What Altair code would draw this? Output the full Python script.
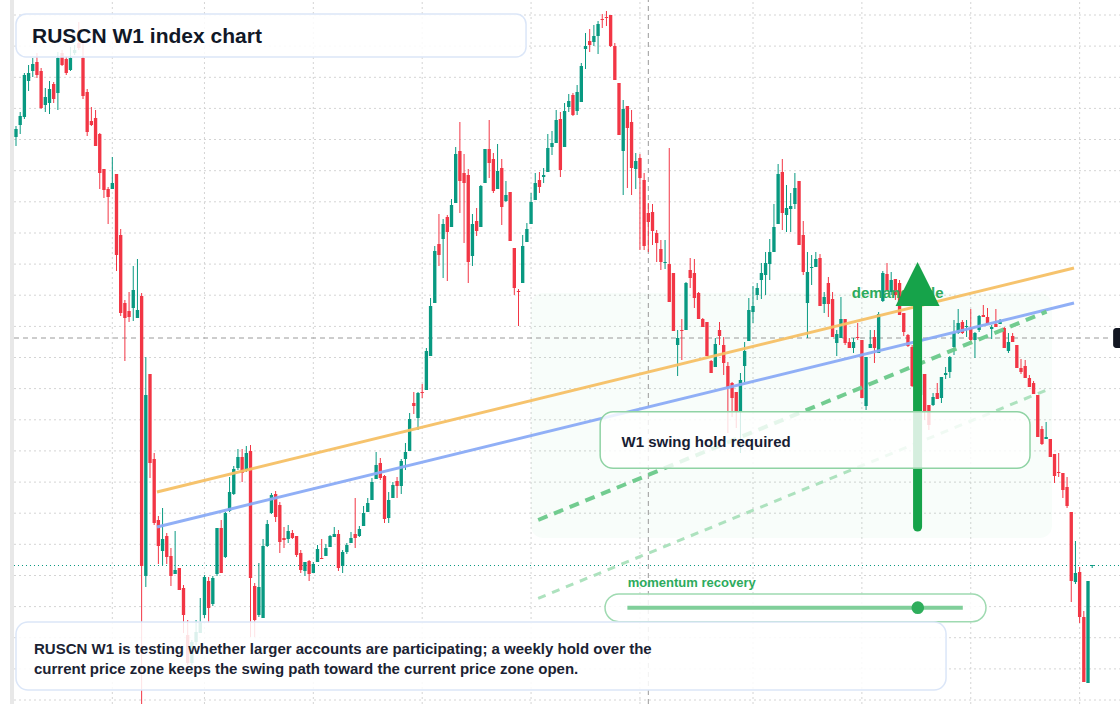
import altair as alt
import pandas as pd
import numpy as np

# ---- weekly OHLC (index points) ----
opens = [
    863, 875, 883, 919, 929, 938, 929, 895, 897, 916,
    907, 947, 941, 930, 947, 957, 942, 908, 879, 882,
    866, 831, 811, 811, 826, 765, 697, 689, 692, 682,
    704, 424, 626, 541, 480, 449, 464, 444, 426, 432,
    412, 365, 337, 358, 367, 385, 419, 396, 426, 472,
    443, 489, 506, 532, 543, 530, 549, 414, 385, 382,
    454, 487, 506, 495, 462, 461, 467, 464, 447, 429,
    439, 427, 438, 442, 444, 453, 463, 466, 434, 448,
    457, 466, 464, 474, 488, 500, 521, 537, 524, 482,
    502, 519, 514, 541, 549, 597, 582, 608, 610, 644,
    697, 756, 761, 783, 773, 797, 849, 827, 825, 744,
    779, 773, 817, 851, 841, 811, 832, 799, 808, 752,
    709, 717, 758, 776, 800, 820, 823, 828, 853, 857,
    881, 853, 893, 905, 889, 898, 951, 959, 958, 964,
    981, 983, 985, 954, 917, 849, 894, 878, 831, 842,
    820, 787, 788, 767, 751, 737, 736, 727, 655, 670,
    670, 730, 727, 707, 681, 678, 639, 633, 670, 655,
    634, 617, 608, 588, 634, 659, 688, 705, 720, 725,
    736, 748, 776, 828, 785, 791, 796, 819, 765, 697,
    732, 733, 742, 696, 717, 701, 657, 662, 681, 658,
    652, 663, 660, 594, 652, 663, 647, 699, 726, 708,
    721, 717, 687, 665, 653, 620, 605, 626, 595, 595,
    607, 602, 625, 628, 653, 667, 678, 673, 672, 660,
    670, 685, 683, 671, 676, 676, 672, 649, 664, 655,
    632, 634, 622, 617, 605, 571, 561, 561, 546, 528,
    527, 513, 488, 418, 428, 383, 317, 434,
]
highs = [
    874, 888, 927, 935, 942, 947, 932, 912, 919, 918,
    948, 950, 943, 953, 955, 978, 957, 911, 893, 890,
    867, 831, 813, 843, 826, 771, 700, 708, 734, 741,
    707, 643, 626, 547, 484, 492, 467, 452, 469, 432,
    415, 380, 360, 380, 402, 425, 423, 424, 472, 480,
    488, 523, 534, 551, 551, 554, 555, 417, 437, 461,
    480, 507, 509, 498, 473, 475, 470, 464, 450, 438,
    440, 438, 455, 461, 456, 465, 473, 470, 450, 457,
    468, 502, 474, 494, 502, 522, 548, 542, 525, 508,
    518, 523, 541, 557, 587, 608, 608, 616, 652, 702,
    754, 786, 781, 785, 801, 853, 878, 846, 831, 786,
    792, 815, 851, 880, 847, 856, 841, 819, 808, 752,
    711, 765, 777, 807, 827, 828, 832, 866, 869, 890,
    888, 897, 906, 907, 915, 937, 967, 971, 975, 979,
    986, 989, 985, 957, 917, 900, 894, 890, 847, 846,
    827, 797, 796, 770, 760, 760, 852, 727, 670, 681,
    718, 742, 741, 708, 682, 678, 640, 662, 678, 663,
    638, 618, 608, 627, 658, 702, 714, 717, 737, 748,
    761, 796, 836, 841, 815, 807, 827, 819, 779, 748,
    745, 748, 746, 708, 723, 708, 670, 703, 681, 662,
    662, 677, 660, 643, 670, 670, 688, 729, 737, 728,
    721, 720, 687, 666, 655, 625, 628, 626, 595, 607,
    617, 623, 633, 644, 680, 691, 680, 680, 691, 668,
    685, 695, 692, 675, 691, 681, 673, 667, 667, 655,
    641, 640, 625, 619, 605, 574, 578, 561, 546, 547,
    527, 523, 488, 459, 433, 389, 419, 434,
]
lows = [
    854, 866, 881, 909, 923, 922, 891, 888, 886, 897,
    890, 934, 925, 929, 945, 950, 901, 864, 874, 854,
    811, 802, 776, 811, 729, 684, 639, 678, 679, 682,
    290, 413, 522, 475, 436, 435, 436, 414, 426, 410,
    367, 335, 335, 355, 367, 382, 377, 394, 424, 427,
    442, 488, 505, 530, 518, 528, 363, 363, 383, 382,
    453, 486, 478, 447, 452, 457, 461, 443, 427, 424,
    419, 427, 438, 441, 444, 453, 463, 429, 427, 446,
    457, 452, 463, 474, 488, 500, 521, 520, 477, 477,
    502, 502, 506, 530, 549, 586, 570, 602, 610, 644,
    697, 734, 722, 719, 773, 797, 787, 757, 717, 734,
    764, 773, 817, 822, 807, 811, 775, 798, 759, 705,
    674, 717, 758, 776, 800, 807, 817, 828, 845, 857,
    823, 853, 888, 884, 885, 898, 931, 948, 954, 946,
    972, 974, 953, 920, 865, 805, 812, 805, 811, 750,
    750, 748, 755, 738, 730, 731, 698, 669, 624, 640,
    670, 712, 692, 681, 673, 644, 627, 633, 655, 625,
    567, 583, 572, 547, 618, 659, 677, 700, 701, 705,
    720, 748, 776, 770, 768, 768, 791, 755, 725, 662,
    715, 733, 694, 687, 683, 663, 644, 662, 655, 652,
    647, 660, 602, 590, 652, 637, 647, 698, 709, 705,
    700, 685, 664, 653, 613, 600, 600, 580, 570, 594,
    601, 597, 621, 622, 645, 666, 666, 663, 657, 642,
    668, 683, 676, 661, 673, 676, 652, 647, 658, 632,
    626, 622, 613, 606, 563, 555, 561, 543, 517, 523,
    502, 492, 398, 416, 377, 318, 317, 432,
]
closes = [
    871, 884, 925, 927, 936, 925, 892, 903, 911, 901,
    942, 935, 927, 942, 950, 952, 904, 868, 875, 854,
    827, 810, 803, 817, 745, 687, 682, 683, 710, 690,
    434, 605, 537, 477, 454, 461, 443, 424, 430, 410,
    385, 337, 358, 368, 378, 423, 392, 422, 472, 427,
    487, 508, 531, 543, 527, 547, 422, 380, 413, 454,
    476, 505, 483, 458, 460, 469, 462, 445, 430, 438,
    426, 436, 451, 441, 452, 464, 466, 432, 448, 455,
    462, 462, 471, 487, 497, 518, 535, 522, 481, 500,
    515, 514, 539, 548, 581, 594, 607, 607, 649, 694,
    749, 745, 776, 768, 795, 846, 819, 817, 738, 776,
    769, 814, 851, 837, 809, 829, 793, 805, 759, 712,
    708, 754, 771, 798, 817, 813, 825, 852, 857, 880,
    830, 889, 899, 885, 908, 934, 954, 955, 964, 976,
    980, 982, 954, 920, 865, 891, 872, 832, 839, 822,
    754, 778, 769, 757, 738, 738, 698, 669, 662, 669,
    717, 722, 702, 681, 673, 644, 627, 656, 664, 637,
    613, 602, 588, 620, 649, 690, 694, 712, 727, 737,
    748, 773, 826, 787, 792, 794, 812, 755, 728, 728,
    733, 741, 694, 703, 696, 663, 666, 681, 657, 652,
    658, 662, 602, 643, 656, 652, 686, 727, 709, 720,
    705, 685, 668, 654, 614, 605, 626, 588, 575, 603,
    601, 623, 627, 643, 667, 677, 667, 674, 660, 667,
    684, 683, 676, 673, 673, 679, 652, 658, 658, 632,
    628, 622, 613, 606, 563, 556, 563, 543, 524, 527,
    510, 494, 419, 427, 383, 318, 419, 434,
]
if not (len(opens) == len(highs) == len(lows) == len(closes)):
    raise SystemExit(f"length mismatch {len(opens)} {len(highs)} {len(lows)} {len(closes)}")

# grid (price levels and week ticks), crosshair and last price
grid_prices = [985.0, 953.9, 922.7, 891.6, 860.5, 829.3, 798.2, 767.0, 735.9, 704.8,
               673.6, 642.5, 611.4, 580.2, 549.1, 517.9, 486.8, 455.7, 424.5, 393.4,
               362.3, 331.1, 300.0]
grid_weeks = [23, 45, 71, 97, 123, 149, 176, 202, 228, 254]
cross_week = 151
cross_price = 662
last_price = 434.5

X0, X1 = -3.821, 263.64
Y0, Y1 = 296.0, 1000.0
LEFT = -0.48
FONT = "Liberation Sans"

xs = alt.Scale(domain=[X0, X1], nice=False, zero=False)
ys = alt.Scale(domain=[Y0, Y1], nice=False, zero=False)


def X(f):
    return alt.X(f, type="quantitative", scale=xs, axis=None)


def Y(f):
    return alt.Y(f, type="quantitative", scale=ys, axis=None)


n = len(opens)
df = pd.DataFrame({"week": np.arange(n), "open": opens, "high": highs,
                   "low": lows, "close": closes})
df["dir"] = np.where(df["close"] >= df["open"], "up", "down")
df["body_lo"] = df[["open", "close"]].min(axis=1)
df["body_hi"] = np.maximum(df[["open", "close"]].max(axis=1), df["body_lo"] + 1)
df["x_lo"] = df["week"] - 0.4
df["x_hi"] = df["week"] + 0.4

color = alt.Color("dir:N", scale=alt.Scale(domain=["up", "down"],
                                           range=["#089981", "#f23645"]), legend=None)

# ---- grid ----
gh = alt.Chart(pd.DataFrame({"p": grid_prices, "a": LEFT, "b": X1})).mark_rule(
    color="#d4d4d4", strokeDash=[2, 3], strokeWidth=1
).encode(x=X("a"), x2="b", y=Y("p"))
gv = alt.Chart(pd.DataFrame({"w": grid_weeks, "a": Y0, "b": Y1})).mark_rule(
    color="#d4d4d4", strokeDash=[2, 3], strokeWidth=1
).encode(x=X("w"), y=Y("a"), y2="b")
strip = alt.Chart(pd.DataFrame({"a": [-1.433], "b": [LEFT], "c": [Y0 - 10], "d": [Y1 + 10]})).mark_rect(
    color="#e8e8e8"
).encode(x=X("a"), x2="b", y=Y("c"), y2="d")

# ---- zone ----
zone = alt.Chart(pd.DataFrame({"a": [123.0], "b": [247.4], "c": [462.0], "d": [707.0]})).mark_rect(
    fill="#22c55e", fillOpacity=0.03, cornerRadius=12
).encode(x=X("a"), x2="b", y=Y("c"), y2="d")

# ---- crosshair & price line ----
cv = alt.Chart(pd.DataFrame({"w": [cross_week], "a": [Y0], "b": [Y1]})).mark_rule(
    color="#9a9a9a", strokeDash=[5, 4], strokeWidth=1
).encode(x=X("w"), y=Y("a"), y2="b")
ch = alt.Chart(pd.DataFrame({"p": [cross_price], "a": [LEFT], "b": [261.7]})).mark_rule(
    color="#9a9a9a", strokeDash=[5, 4], strokeWidth=1
).encode(x=X("a"), x2="b", y=Y("p"))
pl = alt.Chart(pd.DataFrame({"p": [last_price], "a": [LEFT], "b": [X1]})).mark_rule(
    color="#089981", strokeDash=[1, 3], strokeWidth=1
).encode(x=X("a"), x2="b", y=Y("p"))

# ---- candles ----
base = alt.Chart(df)
wicks = base.mark_rule(strokeWidth=1).encode(x=X("week"), y=Y("low"), y2="high", color=color)
bodies = base.mark_rect().encode(x=X("x_lo"), x2="x_hi", y=Y("body_lo"), y2="body_hi", color=color)

# ---- trend lines ----
def seg(w0, p0, w1, p1):
    return pd.DataFrame({"w": [w0, w1], "p": [p0, p1]})


orange = alt.Chart(seg(33.67, 508, 252.66, 732)).mark_line(
    color="#f5c065", strokeWidth=3, opacity=0.95).encode(x=X("w"), y=Y("p"))
blue = alt.Chart(seg(33.67, 473, 252.66, 697)).mark_line(
    color="#8aabf5", strokeWidth=3, opacity=0.95).encode(x=X("w"), y=Y("p"))
dash1 = alt.Chart(seg(124.7, 480, 246.1, 688.3)).mark_line(
    color="#6ac98a", strokeWidth=4, strokeDash=[10, 7], opacity=0.95).encode(x=X("w"), y=Y("p"))
dash2 = alt.Chart(seg(124.7, 401.7, 246.1, 610)).mark_line(
    color="#a9e0bb", strokeWidth=3, strokeDash=[8, 7], opacity=0.95).encode(x=X("w"), y=Y("p"))

# ---- demand label & arrow ----
demand = alt.Chart(pd.DataFrame({"w": [199.6], "p": [702.3], "t": ["demand side"]})).mark_text(
    align="left", baseline="alphabetic", font=FONT, fontSize=15, fontWeight="bold", color="#2dab5d"
).encode(x=X("w"), y=Y("p"), text="t:N")
shaft = alt.Chart(pd.DataFrame({"w": [215.3], "a": [473], "b": [700]})).mark_rule(
    color="#16a34a", strokeWidth=9, strokeCap="round"
).encode(x=X("w"), y=Y("a"), y2="b")
head = alt.Chart(pd.DataFrame({"w": [215.3], "p": [716]})).mark_point(
    shape="M0,-1L1,1L-1,1Z", size=1936, filled=True, fill="#16a34a", opacity=1, strokeWidth=0
).encode(x=X("w"), y=Y("p"))

# ---- W1 swing box ----
w1box = alt.Chart(pd.DataFrame({"a": [139.5], "b": [242.15], "c": [531.7], "d": [588.3]})).mark_rect(
    fill="white", fillOpacity=0.82, stroke="#8fd3a4", strokeWidth=1.5, cornerRadius=13
).encode(x=X("a"), x2="b", y=Y("c"), y2="d")
w1text = alt.Chart(pd.DataFrame({"w": [144.6], "p": [553.5], "t": ["W1 swing hold required"]})).mark_text(
    align="left", baseline="alphabetic", font=FONT, fontSize=15, fontWeight="bold", color="#172033"
).encode(x=X("w"), y=Y("p"), text="t:N")

# ---- momentum pill ----
mtext = alt.Chart(pd.DataFrame({"w": [146.1], "p": [412.7], "t": ["momentum recovery"]})).mark_text(
    align="left", baseline="alphabetic", font=FONT, fontSize=13, fontWeight="bold", color="#2dab5d"
).encode(x=X("w"), y=Y("p"), text="t:N")
pill = alt.Chart(pd.DataFrame({"a": [140.66], "b": [231.64], "c": [378.3], "d": [406.0]})).mark_rect(
    fill="white", fillOpacity=0.85, stroke="#9fdab1", strokeWidth=1.5, cornerRadius=14
).encode(x=X("a"), x2="b", y=Y("c"), y2="d")
pline = alt.Chart(pd.DataFrame({"a": [146.0], "b": [226.1], "p": [392.3]})).mark_rule(
    color="#80cf9a", strokeWidth=4
).encode(x=X("a"), x2="b", y=Y("p"))
pdot = alt.Chart(pd.DataFrame({"w": [215.35], "p": [392.3]})).mark_circle(
    size=160, color="#2fae5c", opacity=1
).encode(x=X("w"), y=Y("p"))

# ---- title and note boxes ----
tbox = alt.Chart(pd.DataFrame({"a": [0.0], "b": [121.8], "c": [943.0], "d": [986.0]})).mark_rect(
    fill="white", fillOpacity=0.86, stroke="#dbe6f8", strokeWidth=1.5, cornerRadius=10
).encode(x=X("a"), x2="b", y=Y("c"), y2="d")
ttext = alt.Chart(pd.DataFrame({"w": [3.82], "p": [956.7], "t": ["RUSCN W1 index chart"]})).mark_text(
    align="left", baseline="alphabetic", font=FONT, fontSize=21, fontWeight="bold", color="#111827"
).encode(x=X("w"), y=Y("p"), text="t:N")
nbox = alt.Chart(pd.DataFrame({"a": [0.0], "b": [222.1], "c": [310.0], "d": [378.0]})).mark_rect(
    fill="white", fillOpacity=0.86, stroke="#dbe6f8", strokeWidth=1.5, cornerRadius=12
).encode(x=X("a"), x2="b", y=Y("c"), y2="d")
note_lines = [
    "RUSCN W1 is testing whether larger accounts are participating; a weekly hold over the",
    "current price zone keeps the swing path toward the current price zone open.",
]
ntext = alt.Chart(pd.DataFrame({"w": [4.3, 4.3], "p": [346.0, 326.5], "t": note_lines})).mark_text(
    align="left", baseline="alphabetic", font=FONT, fontSize=15, fontWeight="bold", color="#1b2333"
).encode(x=X("w"), y=Y("p"), text="t:N")

# ---- clipped price tag at right ----
tag = alt.Chart(pd.DataFrame({"a": [262.0], "b": [266.0], "c": [652.0], "d": [672.0]})).mark_rect(
    fill="#131722", cornerRadius=3
).encode(x=X("a"), x2="b", y=Y("c"), y2="d")

chart = alt.layer(
    gh, gv, strip, zone, cv, ch, pl, wicks, bodies,
    orange, blue, dash1, dash2, demand, shaft, head,
    w1box, w1text, pill, pline, pdot, mtext,
    tbox, ttext, nbox, ntext, tag,
).properties(
    width=1120, height=704, padding=0,
    autosize=alt.AutoSizeParams(type="none"),
    background="white",
).configure_view(strokeWidth=0)

chart.save("out.html", embed_options={"renderer": "svg", "actions": False})
